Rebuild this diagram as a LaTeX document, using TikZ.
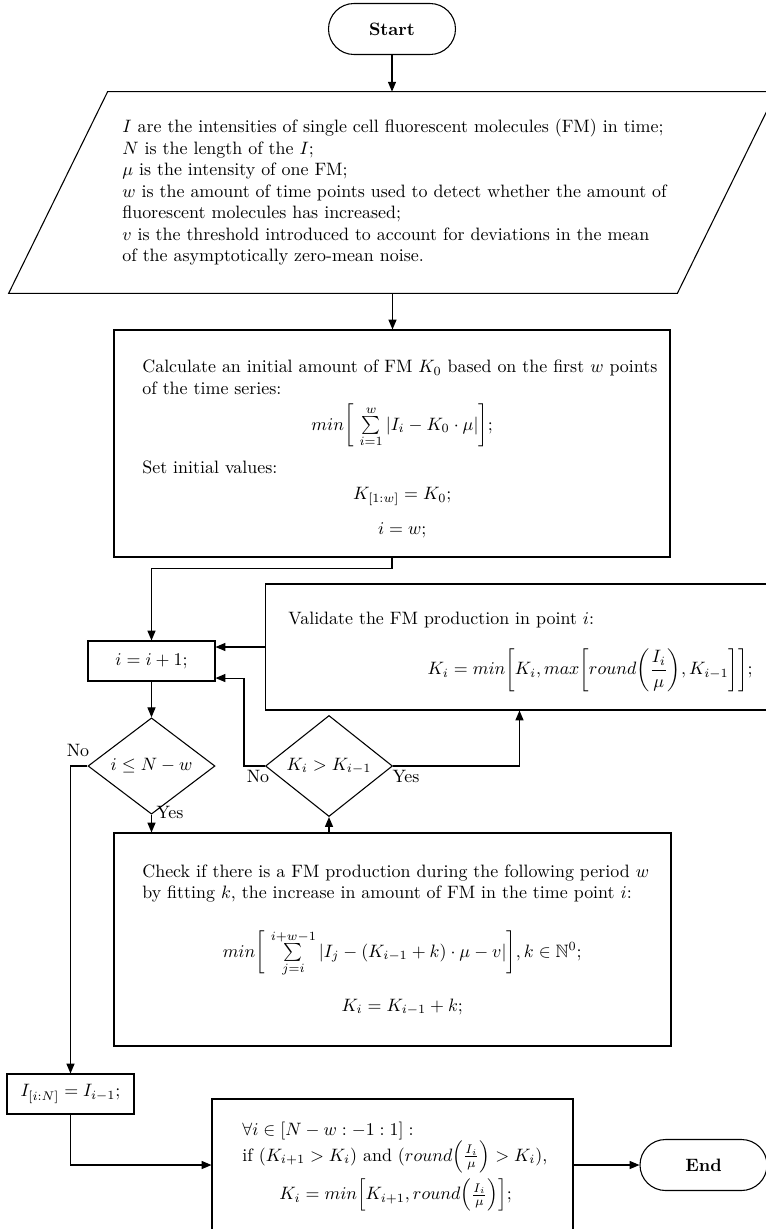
\documentclass[tikz,border=0pt]{standalone}
\usepackage{amsmath,amssymb}
\usetikzlibrary{arrows.meta,shapes.geometric,shapes.misc,calc}
\def\PX{0.558pt}
\tikzset{
  ln/.style={line width=0.6pt},
  arr/.style={line width=0.6pt,-{Triangle[length=5.5pt,width=4.5pt]}},
  box/.style={draw,line width=0.6pt,rectangle,inner sep=0pt},
  term/.style={draw,line width=0.6pt,rounded rectangle,inner sep=0pt,font=\bfseries},
  dec/.style={draw,line width=0.6pt,diamond,inner sep=0pt},
  txt/.style={inner sep=0pt,anchor=base west},
  lbl/.style={inner sep=0pt},
}
\begin{document}
\begin{tikzpicture}[x=0.558pt,y=-0.558pt]
\useasboundingbox (0,0) rectangle (766,1229);
\clip (0,0) rectangle (766,1229);

% Start
\node[term,minimum width=127*\PX,minimum height=51*\PX] (start) at (392,29) {Start};

% input parallelogram
\node[inner sep=0pt,minimum width=668*\PX,minimum height=201*\PX] (inp) at (392.5,192.5) {};
\draw[ln] ([xshift=49.5*\PX]inp.north west) -- ([xshift=49.5*\PX]inp.north east)
  -- ([xshift=-49.5*\PX]inp.south east) -- ([xshift=-49.5*\PX]inp.south west) -- cycle;
\node[txt] (inptxt) at (122,132.5) {\begin{minipage}[t]{340pt}
$I$ are the intensities of single cell fluorescent molecules (FM) in time;\\
$N$ is the length of the $I$;\\
$\mu$ is the intensity of one FM;\\
$w$ is the amount of time points used to detect whether the amount of\\
fluorescent molecules has increased;\\
$v$ is the threshold introduced to account for deviations in the mean\\
of the asymptotically zero-mean noise.
\end{minipage}};

% init box
\node[box,minimum width=556*\PX,minimum height=227*\PX] (init) at (392,443.5) {};
\node[txt] (inittxt) at (142,372.5) {\begin{minipage}[t]{290pt}
Calculate an initial amount of FM $K_0$ based on the first $w$ points\\
of the time series:\par\vspace{4.5pt}
{\centering $min\bigg[\,\sum\limits_{i=1}^{w}|I_i-K_0\cdot\mu|\bigg];$\par}\vspace{6.5pt}
Set initial values:\par\vspace{2.5pt}
{\centering $K_{[1:w]}=K_0;$\par\vspace{7.5pt}
$i=w;$\par}
\end{minipage}};

% i = i+1
\node[box,minimum width=127*\PX,minimum height=40*\PX] (inc) at (151.5,661) {$i=i+1;$};

% validate box
\node[box,minimum width=508*\PX,minimum height=126*\PX] (valid) at (519.5,647) {};
\node[txt] (validtxt) at (288,624) {\begin{minipage}[t]{259pt}
Validate the FM production in point $i$:\par\vspace{11pt}
\hfill$\displaystyle K_i=min\bigg[K_i,max\bigg[round\bigg(\frac{I_i}{\mu}\bigg),K_{i-1}\bigg]\bigg];$
\end{minipage}};

% decisions
\node[dec,minimum width=127*\PX,minimum height=75*\PX] (dec1) at (151.5,766) {$i\le N-w$};
\node[dec,minimum width=127*\PX,minimum height=75*\PX] (dec2) at (329,766) {$K_i>K_{i-1}$};

% check box
\node[box,minimum width=557*\PX,minimum height=213*\PX] (check) at (392.5,939.5) {};
\node[txt] (checktxt) at (142,877) {\begin{minipage}[t]{290pt}
Check if there is a FM production during the following period $w$\\
by fitting $k$, the increase in amount of FM in the time point $i$:\par\vspace{14.5pt}
{\centering $min\bigg[\,\sum\limits_{j=i}^{i+w-1}|I_j-(K_{i-1}+k)\cdot\mu-v|\bigg],k\in\mathbb{N}^0;$\par\vspace{11pt}
$K_i=K_{i-1}+k;$\par}
\end{minipage}};

% I set box
\node[box,minimum width=127*\PX,minimum height=40*\PX] (iset) at (70.5,1094) {$I_{[i:N]}=I_{i-1};$};

% final box
\node[box,minimum width=361*\PX,minimum height=132*\PX] (final) at (392.5,1165) {};
\node[txt] (finaltxt) at (242,1135) {\begin{minipage}[t]{171pt}
$\forall i\in[N-w:-1:1]:$\\[-0.5pt]
if $(K_{i+1}>K_i)$ and $(round\Big(\frac{I_i}{\mu}\Big)>K_i)$,\par\vspace{2.5pt}
{\centering $K_i=min\Big[K_{i+1},round\Big(\frac{I_i}{\mu}\Big)\Big];$\par}
\end{minipage}};

% End
\node[term,minimum width=127*\PX,minimum height=51*\PX] (end) at (703.5,1165) {End};

% connectors
\draw[arr] (start.south) -- (start.south |- inp.north);
\draw[arr] (inp.south) -- (inp.south |- init.north);
\draw[arr] (init.south) -- ++(0,11) -| (inc.north);
\draw[arr] (valid.west) -- (valid.west -| inc.east);
\draw[arr] (inc.south) -- (dec1.north);
\coordinate (incin) at ([yshift=3.5*\PX]inc.south east);
\draw[arr] (dec2.west) -- ++(-21,0) |- (incin);
\draw[arr] (dec2.east) -| (valid.south);
\draw[arr] (dec1.south) -- (dec1.south |- check.north);
\draw[arr] (check.north -| dec2.south) -- (dec2.south);
\draw[arr] (dec1.west) -| (iset.north);
\draw[arr] (iset.south) |- (final.west);
\draw[arr] (final.east) -- (end.west);

% labels
\node[lbl] (no1) at (78,750) {No};
\node[lbl] (yes1) at (170,812) {Yes};
\node[lbl] (no2) at (258,776) {No};
\node[lbl] (yes2) at (406,776) {Yes};
\end{tikzpicture}
\end{document}
